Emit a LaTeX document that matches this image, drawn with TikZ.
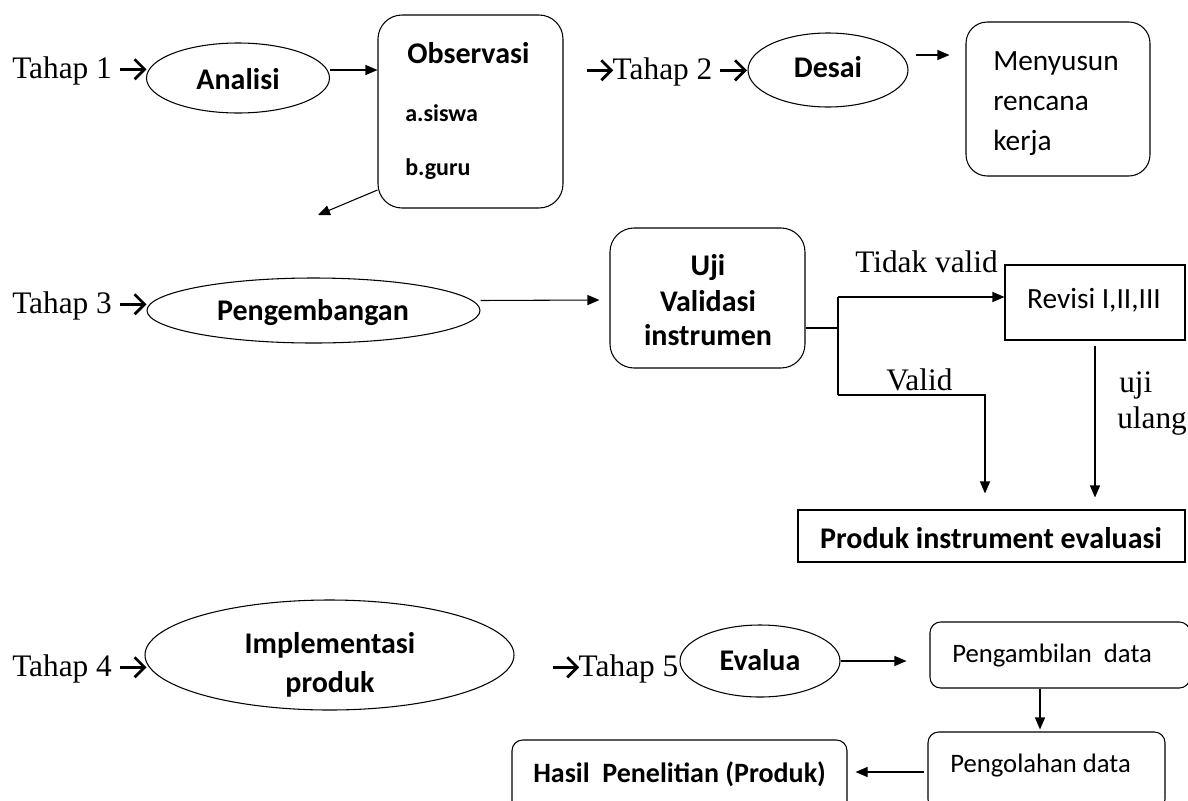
\documentclass[tikz,border=0pt]{standalone}
\usepackage{fontspec}
\setmainfont{Liberation Serif}
\newfontfamily\calfont{Carlito}
\usetikzlibrary{arrows.meta,calc,shapes.geometric}
\newcommand\rarr{\tikz[baseline=0pt,x=1pt,y=1pt]{\draw[line width=2.1pt, line cap=butt] (0,6.5) -- (18,6.5); \draw[line width=2.1pt, line join=miter] (11,14) -- (18.5,6.5) -- (11,-1);}}
\begin{document}
\begin{tikzpicture}[x=0.75pt,y=-0.75pt,
  arr/.style={-{Triangle[length=9pt,width=7.5pt]}, line width=0.8pt},
  ln/.style={line width=0.8pt},
  ell/.style={ellipse, draw, line width=0.8pt, inner sep=0pt},
  rbox/.style={rectangle, rounded corners=#1, draw, line width=0.8pt, inner sep=0pt},
  rbox/.default=18pt,
  sbox/.style={rectangle, draw, line width=0.8pt, inner sep=0pt},
  tms/.style={inner sep=0pt, font=\fontsize{23.5}{27}\selectfont},
  bld/.style={inner sep=0pt, font=\calfont\bfseries\fontsize{22.5}{27}\selectfont},
  bldsm/.style={inner sep=0pt, font=\calfont\bfseries\fontsize{18}{22}\selectfont},
  cal/.style={inner sep=0pt, font=\calfont\fontsize{22}{26}\selectfont},
  calsm/.style={inner sep=0pt, font=\calfont\fontsize{20}{24}\selectfont}
]
\useasboundingbox (0,0) rectangle (1188,800);
\clip (0,0) rectangle (1188,800);

% ---------- Row 1 ----------
\node[tms, anchor=base west] (t1) at (12,78) {Tahap 1\hspace{5pt}\rarr};
\node[ell, minimum width=137.25pt, minimum height=52.5pt] (analisi) at (238,78) {};
\node[bld] (analisiT) at (238,79) {Analisi};

\node[rbox, minimum width=138.75pt, minimum height=144.75pt] (obs) at (470.5,111.5) {};
\node[bld, anchor=base west] (obs1) at (407,63) {Observasi};
\node[bldsm, anchor=base west] (obs2) at (405,121) {a.siswa};
\node[bldsm, anchor=base west] (obs3) at (405,175) {b.guru};
\coordinate (down1) at (318,215);

\node[tms, anchor=base west] (t2) at (585,79) {\rarr Tahap 2\hspace{5pt}\rarr};
\node[ell, minimum width=120pt, minimum height=55.5pt] (desai) at (828,70) {};
\node[bld] (desaiT) at (828,67) {Desai};

\node[rbox=16pt, minimum width=138pt, minimum height=115.5pt] (meny) at (1058,99) {};
\node[cal, anchor=base west] (meny1) at (993,70) {Menyusun};
\node[cal, anchor=base west] (meny2) at (993,110) {rencana};
\node[cal, anchor=base west] (meny3) at (993,150) {kerja};

\draw[arr] (analisi.east |- 0,70) -- (obs.west |- 0,70);
\draw[arr] (obs.west |- 0,190) -- (down1);
\draw[arr] ($(desai.east)+(7,-15)$) -- ($(meny.west)+(-16,-44)$);

% ---------- Row 2 ----------
\node[tms, anchor=base west] (t3) at (12,313) {Tahap 3\hspace{5pt}\rarr};
\node[ell, minimum width=249.75pt, minimum height=48.75pt] (peng) at (313.5,310.5) {};
\node[bld, anchor=base] (pengT) at (313,320) {Pengembangan};

\node[rbox, minimum width=146.25pt, minimum height=105pt] (uji) at (707.5,298) {};
\node[bld, anchor=base] (uji1) at (708,275) {Uji};
\node[bld, anchor=base] (uji2) at (708,311) {Validasi};
\node[bld, anchor=base] (uji3) at (708,345) {instrumen};

\node[sbox, minimum width=135pt, minimum height=56.25pt] (rev) at (1095,302.5) {};
\node[cal, anchor=base] (revT) at (1094,308) {Revisi I,II,III};

\node[sbox, minimum width=290.25pt, minimum height=39pt] (prod) at (991.5,536) {};
\node[bld, anchor=base] (prodT) at (991,548) {Produk instrument evaluasi};

\coordinate (jm) at (838,328);
\coordinate (jt) at (838,297);
\coordinate (jb) at (838,395);

\draw[arr] ($(peng.east)+(0,-10)$) -- ($(uji.west)+(-10,2)$);
\draw[ln] (uji.east |- jm) -- (jm);
\draw[ln] (jt) -- (jb);
\draw[arr] (jt) -- (jt -| rev.west);
\draw[arr] (jb) -| ($(prod.north)+(-6.5,-16)$);
\draw[arr] ($(rev.south)+(0,5)$) -- ($(rev.south |- prod.north)+(0,-12)$);

\node[tms, anchor=base west] (tv) at (855,272) {Tidak valid};
\node[tms, anchor=base west] (v) at (886,390) {Valid};
\node[tms, anchor=base west] (uu1) at (1119,392) {uji};
\node[tms, anchor=base west] (uu2) at (1117,428) {ulang};

% ---------- Row 3 ----------
\node[tms, anchor=base west] (t4) at (12,676) {Tahap 4\hspace{5pt}\rarr};
\node[ell, minimum width=276.75pt, minimum height=82.5pt] (impl) at (329.5,655) {};
\node[bld, anchor=base] (impl1) at (330,653) {Implementasi};
\node[bld, anchor=base] (impl2) at (330,692) {produk};

\node[tms, anchor=base west] (t5) at (551,676) {\rarr Tahap 5};
\node[ell, minimum width=120pt, minimum height=54pt] (eval) at (760,661) {};
\node[bld, anchor=base] (evalT) at (760,670) {Evalua};

\node[rbox=8pt, minimum width=195pt, minimum height=49.5pt] (ambil) at (1060,655) {};
\node[calsm, anchor=base west] (ambilT) at (952,662) {Pengambilan\ \ data};

\node[rbox=8pt, minimum width=177.75pt, minimum height=58.5pt] (olah) at (1046.5,771) {};
\node[calsm, anchor=base west] (olahT) at (950,772) {Pengolahan data};

\node[rbox=8pt, minimum width=251.25pt, minimum height=56.25pt] (hasil) at (679.5,777.5) {};
\node[bld, anchor=base west, font=\calfont\bfseries\fontsize{21}{25}\selectfont] (hasilT) at (533,782) {Hasil\ \ Penelitian (Produk)};

\draw[arr] (eval.east) -- ($(eval.east -| ambil.west)+(-23,0)$);
\draw[arr] ($(ambil.south)+(-20,0)$) -- ($(olah.north)+(-6.5,-2)$);
\draw[arr] ($(olah.west)+(-3,1)$) -- ($(olah.west -| hasil.east)+(8,1)$);
\end{tikzpicture}
\end{document}
